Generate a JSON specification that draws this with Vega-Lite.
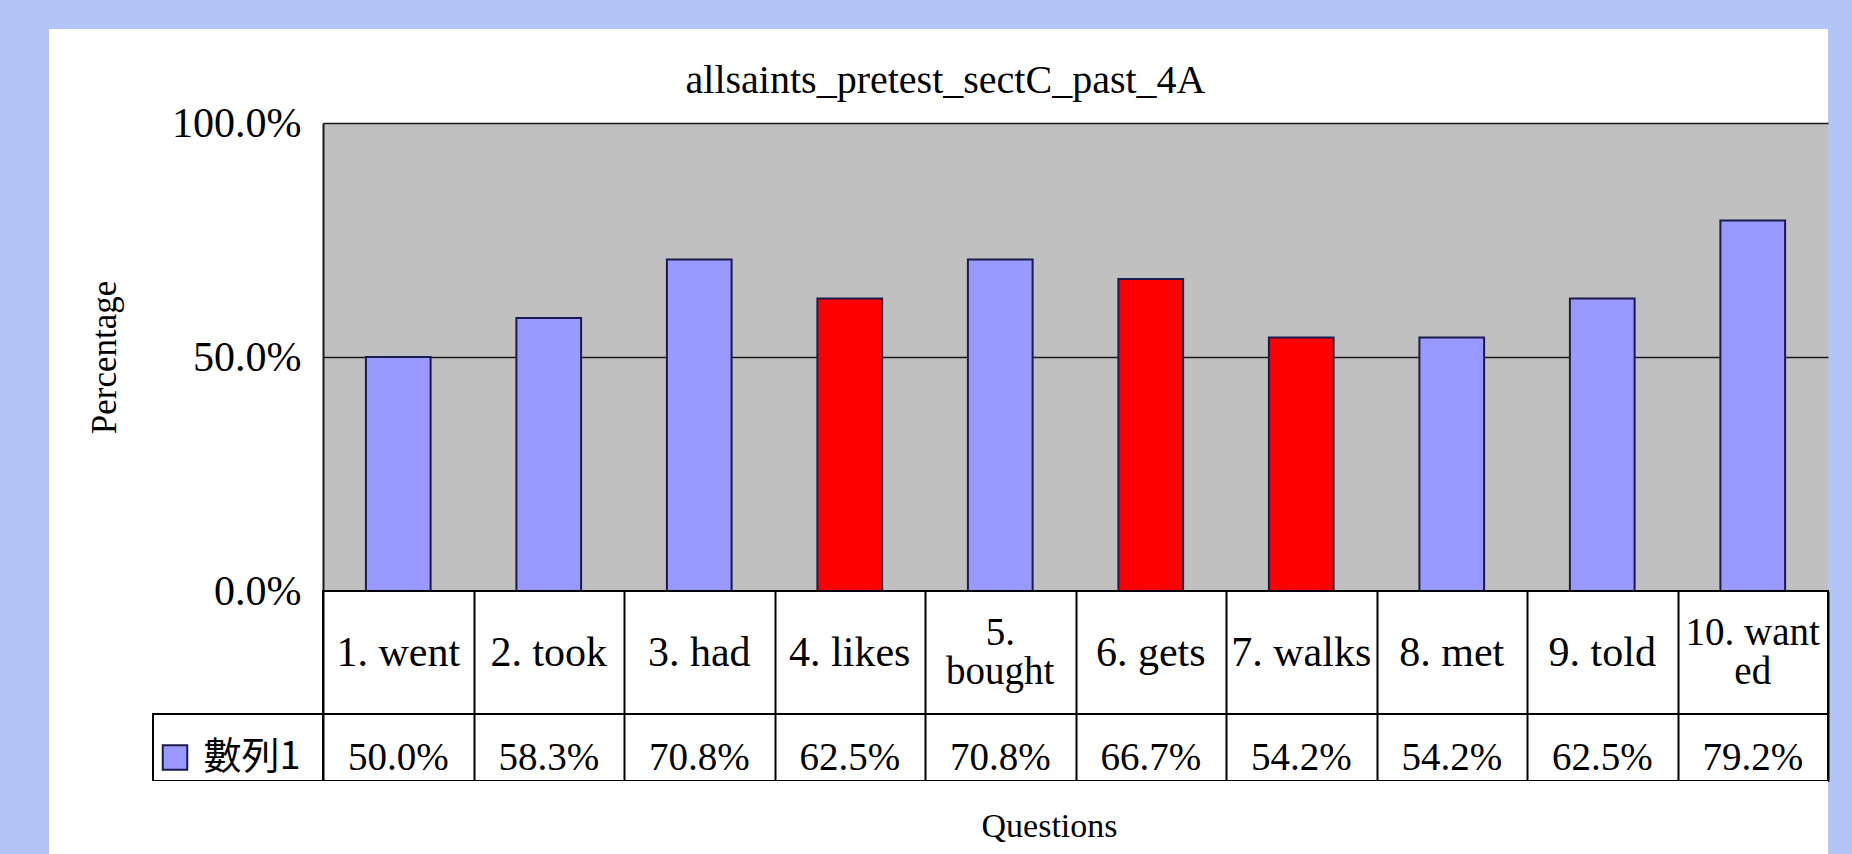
{
  "$schema": "https://vega.github.io/schema/vega-lite/v6.json",
  "background": "#b3c4f7",
  "padding": {"left": 49, "top": 29, "right": 24, "bottom": 0},
  "autosize": {"type": "pad"},
  "datasets": {
    "q": [
      {"question": "1. went", "pct": 0.5, "tense": "past"},
      {"question": "2. took", "pct": 0.5833, "tense": "past"},
      {"question": "3. had", "pct": 0.7083, "tense": "past"},
      {"question": "4. likes", "pct": 0.625, "tense": "present"},
      {"question": "5.\nbought", "pct": 0.7083, "tense": "past"},
      {"question": "6. gets", "pct": 0.6667, "tense": "present"},
      {"question": "7. walks", "pct": 0.5417, "tense": "present"},
      {"question": "8. met", "pct": 0.5417, "tense": "past"},
      {"question": "9. told", "pct": 0.625, "tense": "past"},
      {"question": "10. want\ned", "pct": 0.7917, "tense": "past"}
    ],
    "none": []
  },
  "concat": [
    {"width": 104, "height": 94, "view": {"fill": "white"}, "data": {"name": "none"}, "mark": "text", "encoding": {}},
    {"width": 170, "height": 94, "view": {"fill": "white"}, "data": {"name": "none"}, "mark": "text", "encoding": {}},
    {"width": 1505, "height": 94, "view": {"fill": "white"}, "data": {"name": "none"}, "mark": "text", "encoding": {}},

    {"width": 104, "height": 468, "view": {"fill": "white"}, "data": {"name": "none"}, "mark": "text", "encoding": {}},
    {"width": 170, "height": 468, "view": {"fill": "white"}, "data": {"name": "none"}, "mark": "text", "encoding": {}},
    {
      "width": 1505, "height": 468,
      "view": {"fill": "#c0c0c0"},
      "title": {"text": "allsaints_pretest_sectC_past_4A", "anchor": "middle", "dx": -130, "offset": 1, "font": "Liberation Serif", "fontSize": 40, "fontWeight": "normal", "color": "black"},
      "data": {"name": "q"},
      "mark": {"type": "bar", "stroke": "#1a1a4d", "strokeWidth": 2},
      "encoding": {
        "x": {"field": "question", "type": "nominal", "sort": ["1. went", "2. took", "3. had", "4. likes", "5.\nbought", "6. gets", "7. walks", "8. met", "9. told", "10. want\ned"], "scale": {"paddingInner": 0.57, "paddingOuter": 0.285}, "axis": null},
        "y": {
          "field": "pct", "type": "quantitative", "scale": {"domain": [0, 1]},
          "axis": {"title": "Percentage", "format": ".1%", "values": [0.5, 1], "grid": true, "gridColor": "#1a1a1a", "gridWidth": 1.5, "gridOpacity": 1, "domain": true, "domainColor": "#1a1a1a", "domainWidth": 2, "ticks": false, "tickSize": 0, "labelPadding": 22, "labelFont": "Liberation Serif", "labelFontSize": 42, "labelColor": "black", "titleFont": "Liberation Serif", "titleFontSize": 35, "titleFontWeight": "normal", "titleColor": "black", "titlePadding": 49}
        },
        "color": {"field": "tense", "type": "nominal", "scale": {"domain": ["past", "present"], "range": ["#9999ff", "#ff0000"]}, "legend": null}
      }
    },

    {"width": 104, "height": 123, "view": {"fill": "white"}, "data": {"name": "none"}, "mark": "text", "encoding": {}},
    {"width": 170, "height": 123, "view": {"fill": "white"}, "data": {"name": "none"}, "mark": "text", "encoding": {}},
    {
      "width": 1505, "height": 123,
      "view": {"fill": "white", "stroke": "black", "strokeWidth": 2},
      "data": {"name": "q"},
      "encoding": {
        "x": {"field": "question", "type": "nominal", "sort": ["1. went", "2. took", "3. had", "4. likes", "5.\nbought", "6. gets", "7. walks", "8. met", "9. told", "10. want\ned"], "scale": {"paddingInner": 0, "paddingOuter": 0}, "axis": {"grid": true, "tickBand": "extent", "gridColor": "black", "gridWidth": 2, "gridOpacity": 1, "labels": false, "ticks": false, "domain": false, "title": null}}
      },
      "layer": [
        {
          "transform": [{"filter": "indexof(datum.question, '\\n') < 0"}],
          "mark": {"type": "text", "font": "Liberation Serif", "fontSize": 42, "baseline": "middle", "color": "black"},
          "encoding": {"text": {"field": "question"}}
        },
        {
          "transform": [{"filter": "indexof(datum.question, '\\n') >= 0"}],
          "mark": {"type": "text", "lineBreak": "\n", "font": "Liberation Serif", "fontSize": 39, "lineHeight": 39, "baseline": "middle", "color": "black", "dy": -20},
          "encoding": {"text": {"field": "question"}}
        },
        {
          "mark": {"type": "rule", "color": "black", "strokeWidth": 2},
          "encoding": {
            "x": null,
            "y": {"datum": 0, "type": "quantitative", "scale": {"domain": [-1, 0], "nice": false}, "axis": {"values": [0], "format": ".1%", "domain": false, "ticks": false, "tickSize": 0, "grid": false, "title": null, "labelPadding": 22, "labelFont": "Liberation Serif", "labelFontSize": 42, "labelColor": "black"}}
          }
        }
      ]
    },

    {"width": 104, "height": 67, "view": {"fill": "white"}, "data": {"name": "none"}, "mark": "text", "encoding": {}},
    {
      "width": 170, "height": 67,
      "view": {"fill": "white", "stroke": "black", "strokeWidth": 2},
      "data": {"values": [{"series": "數列1"}]},
      "layer": [
        {"mark": {"type": "point", "shape": "square", "filled": true, "size": 600, "fill": "#9999ff", "stroke": "#1a1a4d", "strokeWidth": 2, "opacity": 1, "xOffset": -63, "yOffset": 10}, "encoding": {}},
        {"mark": {"type": "text", "font": "Noto Sans CJK TC", "fontSize": 38, "color": "black", "dx": 14, "dy": 10}, "encoding": {"text": {"field": "series"}}}
      ]
    },
    {
      "width": 1505, "height": 67,
      "view": {"fill": "white", "stroke": "black", "strokeWidth": 2},
      "data": {"name": "q"},
      "mark": {"type": "text", "font": "Liberation Serif", "fontSize": 39, "baseline": "middle", "color": "black", "dy": 10},
      "encoding": {
        "x": {"field": "question", "type": "nominal", "sort": ["1. went", "2. took", "3. had", "4. likes", "5.\nbought", "6. gets", "7. walks", "8. met", "9. told", "10. want\ned"], "scale": {"paddingInner": 0, "paddingOuter": 0}, "axis": {"grid": true, "tickBand": "extent", "gridColor": "black", "gridWidth": 2, "gridOpacity": 1, "labels": false, "ticks": false, "domain": false, "title": null}},
        "text": {"field": "pct", "type": "quantitative", "format": ".1%"}
      }
    },

    {"width": 104, "height": 73, "view": {"fill": "white"}, "data": {"name": "none"}, "mark": "text", "encoding": {}},
    {"width": 170, "height": 73, "view": {"fill": "white"}, "data": {"name": "none"}, "mark": "text", "encoding": {}},
    {
      "width": 1505, "height": 73,
      "view": {"fill": "white"},
      "data": {"values": [{"axis": "Questions"}]},
      "mark": {"type": "text", "font": "Liberation Serif", "fontSize": 34, "color": "black", "dx": -26, "dy": 9},
      "encoding": {"text": {"field": "axis"}}
    }
  ],
  "columns": 3,
  "spacing": 0,
  "bounds": "flush",
  "config": {"view": {"stroke": null}, "font": "Liberation Serif"}
}
